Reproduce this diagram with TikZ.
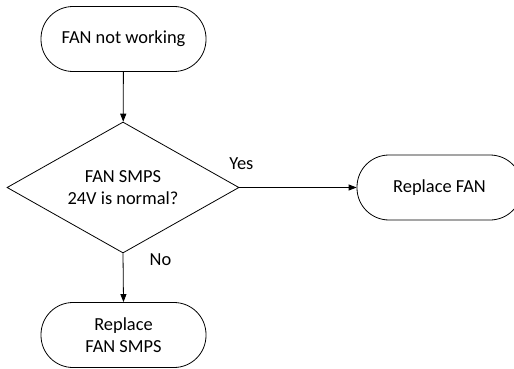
\documentclass[tikz,border=0pt]{standalone}
\usepackage{fontspec}
\setmainfont{Carlito}
\usetikzlibrary{shapes.geometric,arrows.meta}

\tikzset{
    terminal/.style={draw, line width=0.8pt, rectangle, rounded corners=32pt,
        minimum width=165pt, minimum height=65pt, align=center},
    decision/.style={draw, line width=0.8pt, diamond, aspect=1.77, inner sep=0pt,
        minimum width=232pt, minimum height=131pt, align=center},
    flow/.style={-{Triangle[length=8pt,width=6pt]}, line width=0.8pt}
}

\begin{document}
\begin{tikzpicture}[x=1pt, y=-1pt, font=\fontsize{18.4}{21.8}\selectfont]
    \useasboundingbox (0, 0) rectangle (514, 369);

    % 开始与判断
    \node[terminal] (start) at (123.5, 39) {FAN not working};
    \node[decision] (check) at (123, 187.5) {FAN SMPS\\24V is normal?};

    % 两个结果
    \node[terminal] (fan) at (439.5, 187.5) {Replace FAN};
    \node[terminal] (smps) at (123.5, 335) {Replace\\FAN SMPS};

    % 连线
    \draw[flow] (start) -- (check);
    \draw[flow] (check.east) -- node[pos=0, anchor=base, xshift=2pt, yshift=18pt] {Yes} (fan.west);
    \draw[flow] (check.south) -- node[pos=0, anchor=base west, xshift=23pt, yshift=-12pt] {No} (smps.north);
\end{tikzpicture}
\end{document}
